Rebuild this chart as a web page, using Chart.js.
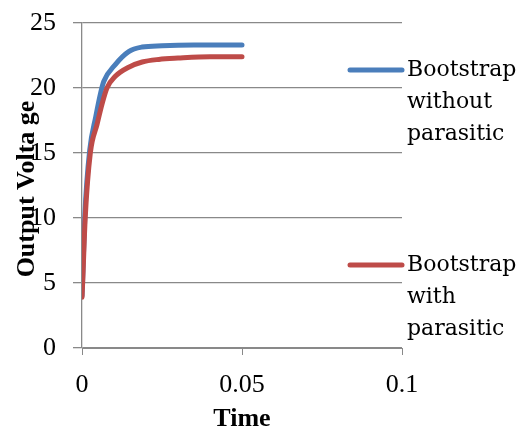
<!DOCTYPE html>
<html>
<head>
<meta charset="utf-8">
<script src="https://cdn.jsdelivr.net/npm/chart.js@4/dist/chart.umd.min.js"></script>
<style>
  body { margin: 0; background: #fff; }
  #wrap { width: 525px; height: 430px; }
</style>
</head>
<body>
<div id="wrap"><canvas id="chartOne" width="525" height="430"></canvas></div>
<script>
// series
const timeWithout = [0, 0.0002, 0.0009, 0.0024, 0.0043, 0.0058, 0.0068, 0.0104, 0.0146, 0.0188, 0.025, 0.035, 0.05];
const voltWithout = [4.0, 5.3, 10.3, 15.2, 17.8, 19.6, 20.5, 21.8, 22.8, 23.15, 23.25, 23.3, 23.3];
const timeWith = [0, 0.0002, 0.001, 0.0026, 0.0047, 0.0063, 0.0078, 0.0104, 0.0146, 0.0188, 0.024, 0.03, 0.04, 0.05];
const voltWith = [3.9, 5.0, 10.0, 15.0, 17.2, 18.8, 20.0, 20.9, 21.6, 22.0, 22.2, 22.3, 22.4, 22.4];
const seriesLabels = [["Bootstrap", "without", "parasitic"], ["Bootstrap", "with", "parasitic"]];
const seriesColors = ['#4a7ebb', '#be4b48'];
const xTickLabels = ["0", "0.05", "0.1"];
const xTitle = "Time";
const yTitle = "Output Volta ge";

const toPoints = (xs, ys) => xs.map((x, i) => ({ x: x, y: ys[i] }));

const gridColor = '#898989';
const tickFont = { family: 'Liberation Serif', size: 26 };

// legend + axis titles drawn by hand, they sit where excel put them
const extras = {
    id: 'extras',
    afterDraw(chart) {
        const ctx = chart.ctx;
        const legendY = [70, 265];
        ctx.save();
        chart.data.datasets.forEach((ds, i) => {
            ctx.strokeStyle = ds.borderColor;
            ctx.lineWidth = 5;
            ctx.lineCap = 'round';
            ctx.beginPath();
            ctx.moveTo(350, legendY[i]);
            ctx.lineTo(402, legendY[i]);
            ctx.stroke();
            ctx.fillStyle = '#000';
            ctx.font = '22px "DejaVu Serif"';
            ctx.textAlign = 'left';
            ctx.textBaseline = 'middle';
            seriesLabels[i].forEach((t, j) => ctx.fillText(t, 407, legendY[i] + j * 32));
        });
        ctx.font = 'bold 26px "Liberation Serif"';
        ctx.textAlign = 'center';
        ctx.textBaseline = 'middle';
        ctx.fillText(xTitle, 242, 419);
        ctx.translate(27, 189);
        ctx.rotate(-Math.PI / 2);
        ctx.fillText(yTitle, 0, 0);
        ctx.restore();
    }
};

const chartOne = document.getElementById("chartOne");
let voltChart = new Chart(chartOne, {
    type: 'scatter',
    data: {
        datasets: [{
            label: seriesLabels[0].join(' '),
            data: toPoints(timeWithout, voltWithout),
            showLine: true,
            borderColor: seriesColors[0],
            borderWidth: 5,
            borderCapStyle: 'round',
            pointRadius: 0,
            cubicInterpolationMode: 'monotone',
            order: 1
        }, {
            label: seriesLabels[1].join(' '),
            data: toPoints(timeWith, voltWith),
            showLine: true,
            borderColor: seriesColors[1],
            borderWidth: 5,
            borderCapStyle: 'round',
            pointRadius: 0,
            cubicInterpolationMode: 'monotone',
            order: 0
        }]
    },
    options: {
        responsive: false,
        animation: false,
        layout: { padding: { top: 23, right: 123, left: 0, bottom: 0 } },
        plugins: { legend: { display: false }, tooltip: { enabled: false } },
        scales: {
            x: {
                type: 'linear',
                min: 0,
                max: 0.1,
                afterFit: s => { s.height = 82; s.paddingLeft = 0; s.paddingRight = 0; },
                afterBuildTicks: s => { s.ticks = [0, 0.05, 0.1].map(v => ({ value: v })); },
                ticks: {
                    font: tickFont, color: '#000', padding: 15,
                    callback: (v, i) => xTickLabels[i]
                },
                grid: { drawOnChartArea: false, tickLength: 7, color: gridColor },
                border: { color: gridColor }
            },
            y: {
                min: 0,
                max: 25,
                afterFit: s => { s.width = 82; s.paddingTop = 0; s.paddingBottom = 0; },
                ticks: { stepSize: 5, font: tickFont, color: '#000', padding: 17 },
                grid: { tickLength: 9, color: gridColor, lineWidth: 1.3 },
                border: { color: gridColor, width: 1.3 }
            }
        }
    },
    plugins: [extras]
});
</script>
</body>
</html>
